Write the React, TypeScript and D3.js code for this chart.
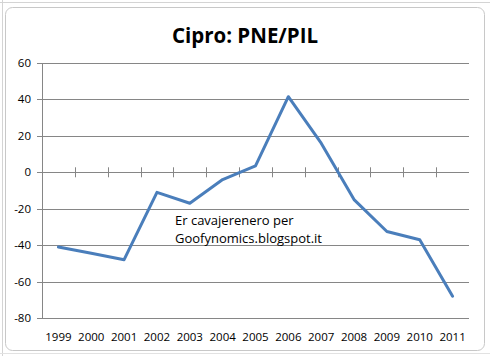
import React from "react";
import * as d3 from "d3";

const years = ["1999","2000","2001","2002","2003","2004","2005","2006","2007","2008","2009","2010","2011"];
const values = [-41, -44.5, -48, -11, -17, -4, 3.5, 41.5, 16, -15, -32.5, -37, -68];
const yTicks = [60, 40, 20, 0, -20, -40, -60, -80];
const title = "Cipro: PNE/PIL";
const noteLines = ["Er cavajerenero per", "Goofynomics.blogspot.it"];

export default function App() {
  const W = 490, H = 356;
  const left = 42, right = 469, top = 63, bottom = 318;
  const x = d3.scaleBand<string>().domain(years).range([left, right]).paddingInner(0).paddingOuter(0);
  const y = d3.scaleLinear().domain([-80, 60]).range([bottom, top]);
  const line = d3.line<number>()
    .x((_, i) => (x(years[i]) as number) + x.bandwidth() / 2)
    .y((d) => y(d));
  const ff = "'Open Sans', sans-serif";
  return (
    <svg width={W} height={H} style={{ position: "absolute", left: 0, top: 0, background: "#fff" }}>
      <rect x={0} y={0} width={W} height={H} fill="#ffffff" />
      <line x1={0} x2={W} y1={2.5} y2={2.5} stroke="#d4d4d4" />
      <line x1={2.5} x2={2.5} y1={0} y2={H} stroke="#d4d4d4" />
      <line x1={0} x2={W} y1={353.5} y2={353.5} stroke="#e2e2e2" />
      <rect x={5.5} y={7.5} width={479} height={343} rx={7} ry={7} fill="#fff" stroke="#c8c8c8" />
      <text x={245} y={43} textAnchor="middle" fontFamily={ff} fontWeight="bold" fontSize={20.5} fill="#000">{title}</text>
      {yTicks.map((t) => (
        <g key={t}>
          <line x1={left - 5} x2={right} y1={Math.round(y(t)) + 0.5} y2={Math.round(y(t)) + 0.5} stroke="#868686" />
          <text x={left - 11} y={y(t) + 4} textAnchor="end" fontFamily={ff} fontSize={11.5} fill="#000">{t}</text>
        </g>
      ))}
      <line x1={left + 0.5} x2={left + 0.5} y1={top} y2={bottom + 1} stroke="#868686" />
      {years.map((yr, i) => (
        <g key={yr}>
          {i > 0 && (
            <line x1={Math.round(x(yr) as number) + 0.5} x2={Math.round(x(yr) as number) + 0.5} y1={y(0) - 5} y2={y(0) + 5} stroke="#868686" />
          )}
          <text x={(x(yr) as number) + x.bandwidth() / 2} y={341} textAnchor="middle" fontFamily={ff} fontSize={11.5} fill="#000">{yr}</text>
        </g>
      ))}
      <path d={line(values) as string} fill="none" stroke="#4a7ebb" strokeWidth={3} strokeLinejoin="round" strokeLinecap="round" />
      {noteLines.map((s, i) => (
        <text key={i} x={175} y={225 + i * 18} fontFamily={ff} fontSize={13} fill="#000">{s}</text>
      ))}
    </svg>
  );
}
